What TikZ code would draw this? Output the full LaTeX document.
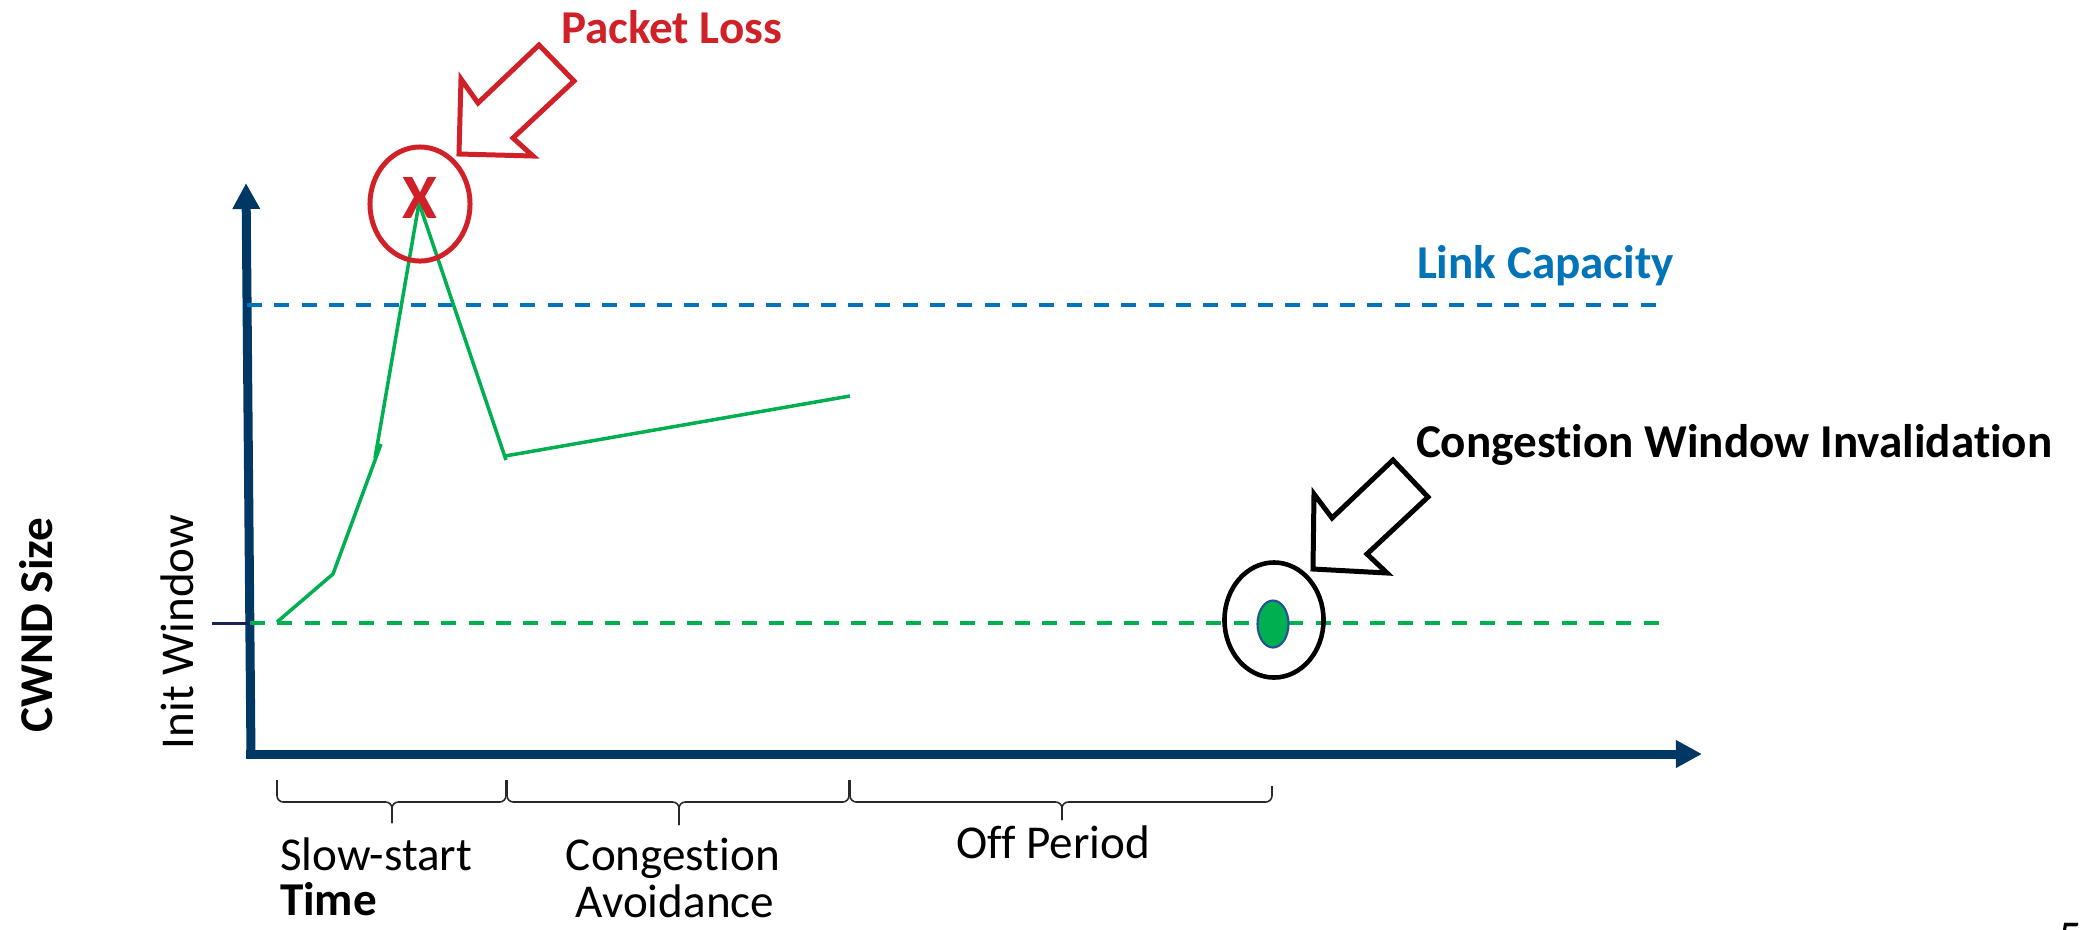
\documentclass[tikz,border=0pt]{standalone}
\usepackage{fontspec}
\setmainfont{Carlito}[Ligatures=NoCommon]
\usetikzlibrary{arrows.meta,shapes.geometric}
\definecolor{navyc}{RGB}{0,56,101}
\definecolor{tickc}{RGB}{25,35,90}
\definecolor{linkc}{RGB}{0,115,185}
\definecolor{greenc}{RGB}{0,176,80}
\definecolor{redc}{RGB}{208,32,40}
\definecolor{dotblue}{RGB}{40,80,150}
\definecolor{bracec}{RGB}{40,40,40}
\begin{document}
\begin{tikzpicture}[x=0.01cm,y=-0.01cm,
  lbl/.style={font=\fontsize{13.4}{16}\selectfont, inner sep=0pt, outer sep=0pt},
  blbl/.style={lbl, font=\bfseries\fontsize{13.4}{16}\selectfont},
  axisline/.style={navyc, line width=2.56pt, -{Triangle[length=7.4pt,width=7.4pt]}},
  dashline/.style={line width=1.14pt, dash pattern=on 4.27pt off 3.5pt},
  cwnd/.style={greenc, line width=1pt},
  blockarrow/.style={line width=1.42pt, line join=miter},
  bracepath/.style={bracec, line width=0.45pt, rounded corners=1.8pt}]
\useasboundingbox (0,0) rectangle (2090,929);

% axes
\coordinate (O) at (251,757);
\coordinate (Ytop) at (246,183);
\coordinate (Xorig) at (246,754);
\coordinate (Xend) at (1702,754);
\draw[axisline] (O) -- (Ytop);
\draw[axisline] (Xorig) -- (Xend);

% reference lines
\coordinate (lc1) at (247,305);
\coordinate (lc2) at (1664,305);
\draw[dashline, linkc] (lc1) -- (lc2);
\coordinate (iw0) at (212,623);
\coordinate (iw1) at (250,623);
\coordinate (iw2) at (1668,623);
\draw[tickc, line width=0.85pt] (iw0) -- (iw1);
\draw[dashline, greenc] (iw1) -- (iw2);

% cwnd curve
\draw[cwnd] (277,622) -- (333,574) -- (381,444);
\draw[cwnd] (375,458) -- (419,203) -- (506,460);
\draw[cwnd] (505,456) -- (850,396);

% packet loss marker
\node (loss) [ellipse, draw=redc, line width=1.42pt, minimum width=1.0cm, minimum height=1.14cm, inner sep=0pt] at (420,204) {};
\node (lossx) [font=\bfseries\fontsize{18}{20}\selectfont, text=redc, inner sep=0pt, anchor=base] at (420,218) {X};
\draw[blockarrow, redc] (459,154) -- (461,79) -- (478,103) -- (539,45) -- (574,81) -- (513,138) -- (533,156) -- cycle;
\node (losslbl) [blbl, text=redc, anchor=base west] at (561,43) {Packet Loss};

% link capacity
\node (linklbl) [blbl, text=linkc, anchor=base west] at (1417,278) {Link Capacity};

% congestion window invalidation marker
\node (cwi) [ellipse, draw=black, line width=1.3pt, minimum width=0.99cm, minimum height=1.15cm, inner sep=0pt] at (1274,620) {};
\node (dot) [ellipse, fill=greenc, draw=dotblue, line width=0.6pt, minimum width=0.31cm, minimum height=0.47cm, inner sep=0pt] at (1273,624) {};
\draw[blockarrow, black] (1313,569) -- (1314,494) -- (1332,518) -- (1393,460) -- (1428,497) -- (1367,554) -- (1387,573) -- cycle;
\node (cwilbl) [blbl, anchor=base west] at (1416,457) {Congestion Window Invalidation};

% axis labels
\node (iwlbl) [lbl, rotate=90, anchor=base] at (193,632) {Init Window};
\node (ylbl) [blbl, rotate=90, anchor=base] at (52,625) {CWND Size};

% braces
\draw[bracepath] (277,780) -- (277,802) -- (392,802) -- (392,823);
\draw[bracepath] (506,780) -- (506,802) -- (392,802) -- (392,823);
\draw[bracepath] (507,780) -- (507,802) -- (679,802) -- (679,825);
\draw[bracepath] (849,780) -- (849,802) -- (679,802) -- (679,825);
\draw[bracepath] (850,780) -- (850,802) -- (1062,802) -- (1062,820);
\draw[bracepath] (1272,786) -- (1272,802) -- (1062,802) -- (1062,820);

% phase labels
\node (ss) [lbl, anchor=base west] at (280,870) {Slow-start};
\node (tm) [blbl, anchor=base west] at (280,915) {Time};
\node (ca1) [lbl, anchor=base] at (673,870) {Congestion};
\node (ca2) [lbl, anchor=base] at (675,917) {Avoidance};
\node (off) [lbl, anchor=base] at (1053,858) {Off Period};

% slide number (cut off)
\node (pg) [lbl, anchor=base west] at (2058,953) {5};
\end{tikzpicture}
\end{document}
